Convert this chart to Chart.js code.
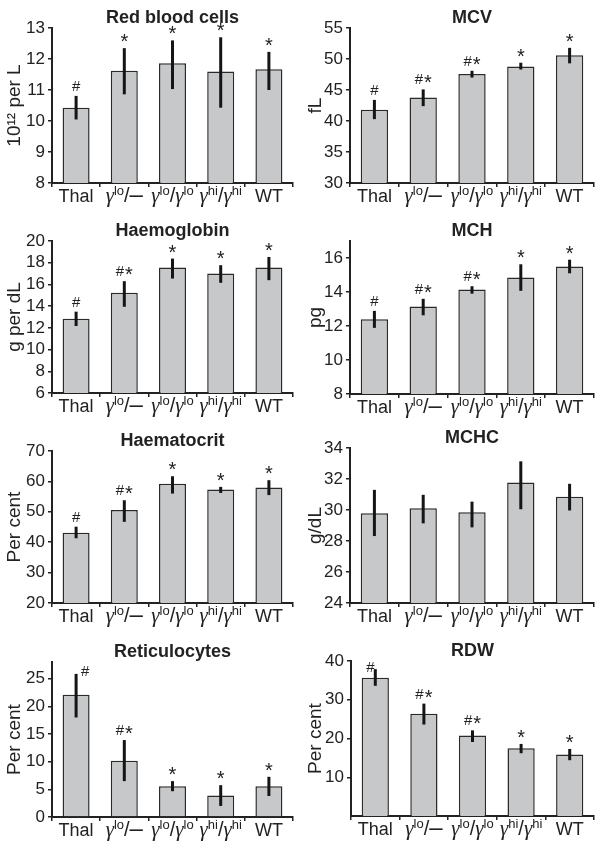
<!DOCTYPE html>
<html>
<head>
<meta charset="utf-8">
<script src="https://cdn.jsdelivr.net/npm/chart.js@4"></script>
<style>
  body { margin: 0; background: #fff; width: 602px; height: 853px; position: relative; overflow: hidden; }
  canvas { position: absolute; }
</style>
</head>
<body>
<script>
// groups on the x axis
const groups = ['Thal', 'γlo/–', 'γlo/γlo', 'γhi/γhi', 'WT'];

// Red blood cells (10^12 per L)
const rbcMean = [10.43, 11.62, 11.86, 11.6, 11.67];
const rbcLow = [10.05, 10.86, 11.03, 10.43, 11.0];
const rbcHigh = [10.81, 12.35, 12.6, 12.7, 12.23];
const rbcMarks = ['#', '*', '*', '*', '*'];
const rbcTicks = [8, 9, 10, 11, 12, 13];

// MCV (fL)
const mcvMean = [41.8, 43.8, 47.6, 48.8, 50.6];
const mcvLow = [40.3, 42.4, 47.0, 48.3, 49.3];
const mcvHigh = [43.4, 45.1, 48.1, 49.4, 51.8];
const mcvMarks = ['#', '#*', '#*', '*', '*'];
const mcvTicks = [30, 35, 40, 45, 50, 55];

// Haemoglobin (g per dL)
const hbMean = [12.84, 15.23, 17.55, 17.0, 17.55];
const hbLow = [12.17, 13.94, 16.54, 16.15, 16.39];
const hbHigh = [13.49, 16.3, 18.38, 17.77, 18.53];
const hbMarks = ['#', '#*', '*', '*', '*'];
const hbTicks = [6, 8, 10, 12, 14, 16, 18, 20];

// MCH (pg)
const mchMean = [12.4, 13.14, 14.14, 14.86, 15.5];
const mchLow = [11.89, 12.63, 13.9, 14.07, 15.1];
const mchHigh = [12.89, 13.6, 14.34, 15.63, 15.9];
const mchMarks = ['#', '#*', '#*', '*', '*'];
const mchTicks = [8, 10, 12, 14, 16];

// Haematocrit (per cent)
const hctMean = [43.1, 50.6, 59.2, 57.3, 58.0];
const hctLow = [41.3, 46.7, 56.0, 56.2, 55.5];
const hctHigh = [45.1, 53.8, 61.7, 58.2, 60.4];
const hctMarks = ['#', '#*', '*', '*', '*'];
const hctTicks = [20, 30, 40, 50, 60, 70];

// MCHC (g/dL)
const mchcMean = [29.79, 30.11, 29.85, 31.78, 30.85];
const mchcLow = [28.32, 29.14, 28.88, 30.05, 29.97];
const mchcHigh = [31.3, 30.98, 30.54, 33.14, 31.69];
const mchcTicks = [24, 26, 28, 30, 32, 34];

// Reticulocytes (per cent)
const retMean = [22.1, 10.17, 5.57, 3.87, 5.57];
const retLow = [17.98, 6.48, 4.66, 2.0, 3.8];
const retHigh = [25.85, 13.9, 6.48, 5.75, 7.26];
const retMarks = ['#', '#*', '*', '*', '*'];
const retTicks = [0, 5, 10, 15, 20, 25];

// RDW (per cent)
const rdwMean = [35.68, 26.4, 20.8, 17.5, 15.85];
const rdwLow = [33.6, 23.6, 19.1, 16.2, 14.4];
const rdwHigh = [37.9, 29.0, 22.1, 18.6, 17.3];
const rdwMarks = ['#', '#*', '#*', '*', '*'];
const rdwTicks = [10, 20, 30, 40];

const SANS = '"Liberation Sans", Arial, Helvetica, sans-serif';
const INK = '#222';
Chart.defaults.font.family = SANS;

const panels = [
  { title: 'Red blood cells', yTitle: '10¹² per L', min: 8, max: 13, ticks: rbcTicks, mean: rbcMean, low: rbcLow, high: rbcHigh, marks: rbcMarks,
    x: 0, y: 0, w: 301, h: 212, axisW: 52, padR: 8, padT: 28, axisH: 29 },
  { title: 'MCV', yTitle: 'fL', min: 30, max: 55, ticks: mcvTicks, mean: mcvMean, low: mcvLow, high: mcvHigh, marks: mcvMarks,
    x: 301, y: 0, w: 301, h: 212, axisW: 49, padR: 8, padT: 28, axisH: 29 },
  { title: 'Haemoglobin', yTitle: 'g per dL', min: 6, max: 20, ticks: hbTicks, mean: hbMean, low: hbLow, high: hbHigh, marks: hbMarks,
    x: 0, y: 212, w: 301, h: 212, axisW: 52, padR: 8, padT: 29, axisH: 31 },
  { title: 'MCH', yTitle: 'pg', min: 8, max: 17, ticks: mchTicks, mean: mchMean, low: mchLow, high: mchHigh, marks: mchMarks,
    x: 301, y: 212, w: 301, h: 212, axisW: 49, padR: 8, padT: 29, axisH: 30 },
  { title: 'Haematocrit', yTitle: 'Per cent', min: 20, max: 70, ticks: hctTicks, mean: hctMean, low: hctLow, high: hctHigh, marks: hctMarks,
    x: 0, y: 424, w: 301, h: 212, axisW: 52, padR: 8, padT: 27, axisH: 33 },
  { title: 'MCHC', yTitle: 'g/dL', min: 24, max: 34, ticks: mchcTicks, mean: mchcMean, low: mchcLow, high: mchcHigh, marks: null,
    x: 301, y: 424, w: 301, h: 212, axisW: 49, padR: 8, padT: 24, axisH: 33 },
  { title: 'Reticulocytes', yTitle: 'Per cent', min: 0, max: 28, ticks: retTicks, mean: retMean, low: retLow, high: retHigh, marks: retMarks,
    x: 0, y: 636, w: 301, h: 217, axisW: 52, padR: 8, padT: 26, axisH: 36, firstMarkShift: [9, 7] },
  { title: 'RDW', yTitle: 'Per cent', min: 0, max: 40, ticks: rdwTicks, mean: rdwMean, low: rdwLow, high: rdwHigh, marks: rdwMarks,
    x: 301, y: 636, w: 301, h: 217, axisW: 50, padR: 8, padT: 25, axisH: 37, firstMarkShift: [-5, 8] }
];

function drawMark(ctx, s, cx, cy) {
  const parts = [...s].map(c => {
    const font = c === '#' ? '15px ' + SANS : '20px ' + SANS;
    ctx.font = font;
    const m = ctx.measureText(c);
    return { c, font, w: m.width, asc: m.actualBoundingBoxAscent, desc: m.actualBoundingBoxDescent };
  });
  const gap = 1;
  const total = parts.reduce((a, p) => a + p.w, 0) + gap * (parts.length - 1);
  let xx = cx - total / 2;
  ctx.textAlign = 'left';
  ctx.textBaseline = 'alphabetic';
  parts.forEach(p => {
    ctx.font = p.font;
    ctx.fillText(p.c, xx, cy + (p.asc - p.desc) / 2);
    xx += p.w + gap;
  });
}

// split a group label into runs: italic gamma, superscript, plain text
function labelRuns(label) {
  const runs = [];
  let i = 0;
  while (i < label.length) {
    const c = label[i];
    if (c === 'γ') {
      runs.push({ t: 'γ', font: 'italic 21px "Liberation Serif", serif', dy: 0 });
      i++;
      let j = i;
      while (j < label.length && /[a-z]/.test(label[j])) j++;
      if (j > i) runs.push({ t: label.slice(i, j), font: '13px ' + SANS, dy: -7 });
      i = j;
    } else if (c === '–') {
      runs.push({ t: '–', font: '24px ' + SANS, dy: 0 });
      i++;
    } else if (c === '/') {
      runs.push({ t: '/', font: '20px ' + SANS, dy: 0 });
      i++;
    } else {
      let j = i;
      while (j < label.length && !'γ–/'.includes(label[j])) j++;
      runs.push({ t: label.slice(i, j), font: '18px ' + SANS, dy: 0 });
      i = j;
    }
  }
  return runs;
}

function drawGroup(ctx, label, cx, base) {
  const runs = labelRuns(label);
  runs.forEach(r => { ctx.font = r.font; r.w = ctx.measureText(r.t).width; });
  const total = runs.reduce((a, r) => a + r.w, 0);
  let xx = cx - total / 2;
  ctx.textAlign = 'left';
  ctx.textBaseline = 'alphabetic';
  runs.forEach(r => {
    ctx.font = r.font;
    ctx.fillText(r.t, xx, base + r.dy);
    xx += r.w;
  });
}

const extras = {
  id: 'extras',
  afterDatasetsDraw(chart, args, opts) {
    const ctx = chart.ctx;
    const ys = chart.scales.y, xs = chart.scales.x;
    const area = chart.chartArea;
    const meta = chart.getDatasetMeta(0);
    ctx.save();
    ctx.fillStyle = INK;
    ctx.strokeStyle = '#151515';
    ctx.lineWidth = 3;
    meta.data.forEach((bar, i) => {
      const top = ys.getPixelForValue(opts.high[i]);
      const bot = ys.getPixelForValue(opts.low[i]);
      ctx.beginPath();
      ctx.moveTo(bar.x, top);
      ctx.lineTo(bar.x, bot);
      ctx.stroke();
      if (opts.marks) {
        let dx = 0, dy = 0;
        if (i === 0 && opts.firstMarkShift) { dx = opts.firstMarkShift[0]; dy = opts.firstMarkShift[1]; }
        drawMark(ctx, opts.marks[i], bar.x + dx, top - 10 + dy);
      }
    });
    groups.forEach((g, i) => drawGroup(ctx, g, xs.getPixelForValue(i), area.bottom + 19));
    ctx.font = 'bold 18px ' + SANS;
    ctx.textAlign = 'center';
    ctx.textBaseline = 'alphabetic';
    ctx.fillText(opts.title, (area.left + area.right) / 2, area.top - 5);
    ctx.restore();
  }
};

panels.forEach(p => {
  const canvas = document.createElement('canvas');
  canvas.width = p.w;
  canvas.height = p.h;
  canvas.style.left = p.x + 'px';
  canvas.style.top = p.y + 'px';
  canvas.style.width = p.w + 'px';
  canvas.style.height = p.h + 'px';
  document.body.appendChild(canvas);

  new Chart(canvas, {
    type: 'bar',
    data: {
      labels: groups,
      datasets: [{
        data: p.mean,
        backgroundColor: '#c7c8c9',
        borderColor: '#2a2a2a',
        borderWidth: 1.5,
        barPercentage: 0.56,
        categoryPercentage: 1
      }]
    },
    options: {
      responsive: false,
      animation: false,
      devicePixelRatio: 1,
      layout: { padding: { top: p.padT, right: p.padR, left: 0, bottom: 0 } },
      plugins: {
        legend: { display: false },
        tooltip: { enabled: false },
        extras: { title: p.title, low: p.low, high: p.high, marks: p.marks, firstMarkShift: p.firstMarkShift }
      },
      scales: {
        x: {
          offset: true,
          grid: { display: true, drawOnChartArea: false, drawTicks: true, tickLength: 4, color: INK, lineWidth: 1.5, offset: true },
          border: { display: true, color: INK, width: 2 },
          ticks: { display: false },
          afterFit: s => { s.height = p.axisH; }
        },
        y: {
          min: p.min,
          max: p.max,
          afterBuildTicks: s => { s.ticks = p.ticks.map(v => ({ value: v })); },
          ticks: { font: { size: 17 }, color: INK, padding: 3, autoSkip: false },
          grid: { display: true, drawOnChartArea: false, drawTicks: true, tickLength: 4, color: INK, lineWidth: 1.5 },
          border: { display: true, color: INK, width: 2 },
          title: { display: true, text: p.yTitle, font: { size: 19 }, color: INK, padding: { top: 3, bottom: 0 } },
          afterFit: s => { s.width = p.axisW; }
        }
      }
    },
    plugins: [extras]
  });
});
</script>
</body>
</html>
